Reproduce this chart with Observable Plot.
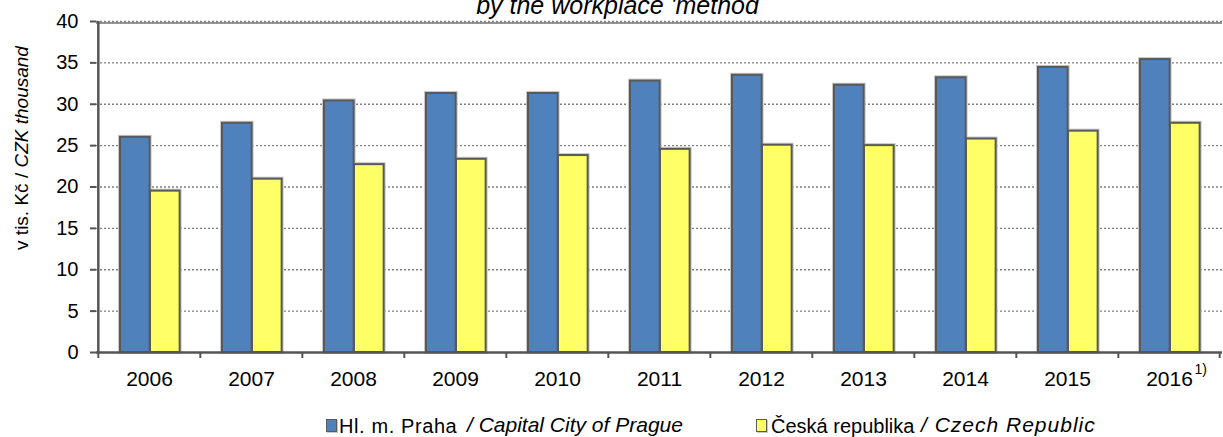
<!DOCTYPE html>
<html>
<head>
<meta charset="utf-8">
<script src="https://cdn.jsdelivr.net/npm/d3@7"></script>
<script src="https://cdn.jsdelivr.net/npm/@observablehq/plot@0.6"></script>
<style>
  body { margin: 0; background: #fff; }
  #wrap { position: relative; width: 1223px; height: 437px; overflow: hidden;
          font-family: "Liberation Sans", Arial, sans-serif; color: #000; }
  #wrap svg { position: absolute; left: 0; top: 0; }
  .lt { position: absolute; font-size: 20px; line-height: 20px; white-space: pre; color: #000; }
  .it { font-style: italic; font-size: 21px; }
  .sw { position: absolute; width: 9px; height: 11px; border: 1.5px solid #5a5a5a;
        box-shadow: 1px 1px 0 #c8c8c8; }
</style>
</head>
<body>
<div id="wrap"></div>
<script>
// ---- data ----
const years = ["2006","2007","2008","2009","2010","2011","2012","2013","2014","2015","2016"];
const praha = [26.0, 27.7, 30.4, 31.3, 31.3, 32.8, 33.5, 32.3, 33.2, 34.45, 35.4];
const cr    = [19.5, 20.95, 22.7, 23.35, 23.8, 24.55, 25.05, 25.0, 25.8, 26.75, 27.7];
const yTicks = [0, 5, 10, 15, 20, 25, 30, 35, 40];
const seriesNames = ["Hl. m. Praha", "Česká republika"];
const seriesNamesEn = ["/ Capital City of Prague", "/ Czech Republic"];
const seriesColors = ["#4F81BD", "#FFFF66"];
const titleText = "by the workplace 'method";
const yLabel = "v tis. Kč / ";
const yLabelEn = "CZK thousand";
const footnote = "1)";

// ---- layout ----
const W = 1223, H = 437, mL = 96, mR = 1, mT = 21, mB = 85;
const bw = (W - mL - mR) / years.length;
const data = years.map((y, i) => ({year: y, praha: praha[i], cr: cr[i]}));
const edge = "#595959";

const chart = Plot.plot({
  width: W, height: H,
  marginLeft: mL, marginRight: mR, marginTop: mT, marginBottom: mB,
  style: {fontFamily: "'Liberation Sans', Arial, sans-serif", fontSize: "21px", color: "#000", background: "transparent", overflow: "visible"},
  x: {type: "band", domain: years, padding: 0, label: null},
  y: {domain: [0, 40], label: null},
  marks: [
    Plot.ruleY(yTicks.filter(t => t > 0), {stroke: "#808080", strokeDasharray: "2,2", strokeWidth: 1.3}),
    Plot.ruleY([40], {stroke: "#6f6f6f", strokeWidth: 1.5, dy: 1.5}),
    // halos
    Plot.barY(data, {x: "year", y: "praha", fill: "none", stroke: "#c8c8c8", strokeWidth: 4, insetLeft: 22, insetRight: bw - 52}),
    Plot.barY(data, {x: "year", y: "cr", fill: "none", stroke: "#c8c8c8", strokeWidth: 4, insetLeft: 52, insetRight: bw - 82}),
    Plot.barY(data, {x: "year", y: "praha", fill: seriesColors[0], stroke: edge, strokeWidth: 2, insetLeft: 22, insetRight: bw - 52}),
    Plot.barY(data, {x: "year", y: "cr", fill: seriesColors[1], stroke: edge, strokeWidth: 2, insetLeft: 52, insetRight: bw - 82}),
    // axes lines
    Plot.ruleY([0], {stroke: "#555", strokeWidth: 2.5}),
    Plot.ruleX([years[0]], {x: d => d, dx: -bw / 2, y1: 0, y2: 40, stroke: "#555", strokeWidth: 2.5}),
    Plot.ruleX(years, {x: d => d, dx: -bw / 2, y1: 0, y2: 0, insetBottom: -6, stroke: "#555", strokeWidth: 2}),
    Plot.ruleX([years[years.length - 1]], {x: d => d, dx: bw / 2 - 1, y1: 0, y2: 0, insetBottom: -6, stroke: "#555", strokeWidth: 2}),
    Plot.axisY({ticks: yTicks, tickSize: 6, text: null, stroke: "#555", strokeWidth: 2}),
    Plot.axisY({ticks: yTicks, tickSize: 0, tickPadding: 18, fontSize: 20, fill: "#000"}),
    Plot.axisX({tickSize: 0, tickPadding: 19, fontSize: 21, fill: "#000"}),
    Plot.text([footnote], {x: () => years[years.length - 1], text: d => d, frameAnchor: "bottom", textAnchor: "start", dx: 25, dy: 21, fontSize: 14, fill: "#000"}),
    Plot.text([titleText], {text: d => d, frameAnchor: "top", dx: 617 - (mL + W - mR) / 2, dy: -8, lineAnchor: "bottom", fontSize: 25, fontStyle: "italic", fill: "#000"})
  ]
});

const wrap = document.getElementById("wrap");
wrap.appendChild(chart);

// y-axis label (rotated, mixed style)
const svg = d3.select(chart);
const yl = svg.append("text")
  .attr("transform", "translate(28,148) rotate(-90)")
  .attr("text-anchor", "middle")
  .attr("font-size", 19)
  .attr("fill", "#000");
yl.append("tspan").text(yLabel);
yl.append("tspan").attr("font-style", "italic").text(yLabelEn);

// legend
function add(txt, cls, left, top) {
  const el = document.createElement("div");
  el.className = cls;
  el.style.left = left + "px";
  el.style.top = top + "px";
  if (txt !== null) el.textContent = txt;
  wrap.appendChild(el);
  return el;
}
const sw1 = add(null, "sw", 326, 419); sw1.style.background = seriesColors[0];
const t1 = add(seriesNames[0], "lt", 339, 416); t1.style.letterSpacing = "0.6px";
add(seriesNamesEn[0], "lt it", 467, 415);
const sw2 = add(null, "sw", 756, 419); sw2.style.background = seriesColors[1];
add(seriesNames[1], "lt", 771, 416);
const t4 = add(seriesNamesEn[1], "lt it", 921, 415); t4.style.letterSpacing = "1px";
</script>
</body>
</html>
